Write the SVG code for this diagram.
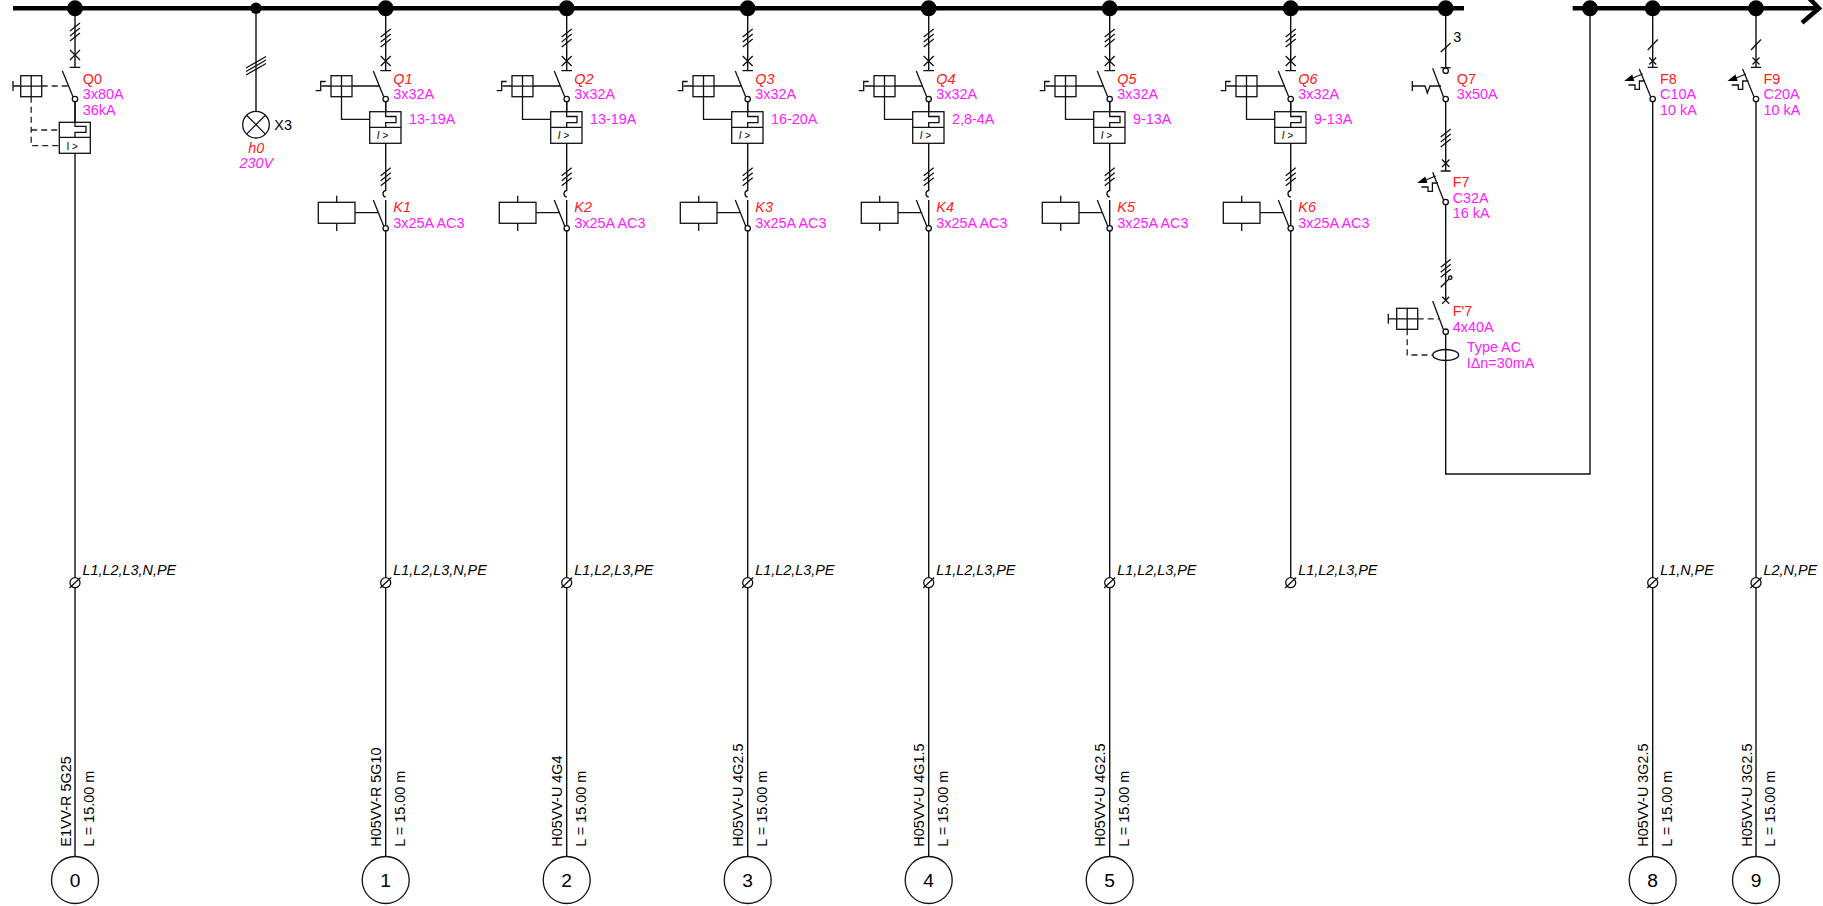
<svg xmlns="http://www.w3.org/2000/svg" xmlns:xlink="http://www.w3.org/1999/xlink" width="1823" height="906" viewBox="0 0 1823 906">
<style>
text{font-family:"Liberation Sans",Arial,sans-serif;font-size:14.4px;fill:#000}
.r{fill:#ff2020}.m{fill:#ff20ff}.i{font-style:italic}
.s{fill:none;stroke:#111;stroke-width:1.3}
.d{fill:none;stroke:#222;stroke-width:1.3;stroke-dasharray:6 4}
.w{fill:none;stroke:#111;stroke-width:1.4}
.o{fill:#fff;stroke:#111;stroke-width:1.3}
.b{fill:none;stroke:#000;stroke-width:4.5}
.f{fill:#000}
.n{font-size:19.2px;text-anchor:middle}
.c{text-anchor:middle}
.t{font-size:10px}
</style>
<defs>
<g id="tri"><path class="s" d="M-5 4L5-4M-5 9L5 1M-5 14L5 6"/></g>
<g id="box"><rect class="o" x="0" y="0" width="21" height="21"/><path class="s" d="M10.5 0V21M0 10.5H21"/></g>
<g id="trip"><path class="f" d="M-28.5 81L-20.5 74.6L-18.3 81Z"/><path class="s" d="M-20 78L-10 74M-24.3 85H-17.7V89.3H-13.3V81H-7.7"/></g>
<g id="end"><circle class="o" cx="0" cy="582.7" r="5"/><path class="s" d="M-5.5 588L5.5 577.5"/></g>
<g id="feeder">
<use xlink:href="#tri" y="33"/>
<path class="s" d="M-5 56L5 66M5 56L-5 66M-5.3 70.7H5.3M-12.4 71L-2 96.7"/>
<circle class="o" cx="0" cy="99" r="2.7"/>
<path class="s" d="M-70 90.7H-65V81.5H-60M-64 86H-54.7"/>
<use xlink:href="#box" x="-54.7" y="75.7"/>
<path class="s" d="M-33.7 86H-6.3M-44.2 96.7V119.3H-16"/>
<rect class="o" x="-16" y="111.7" width="31.3" height="31.6"/>
<path class="s" d="M-16 127.3H15.3M0 101.7V116.5H10.3V122.7H0V127.3"/>
<text class="t i" x="-9" y="139">I &gt;</text>
<use xlink:href="#tri" y="171.7"/>
<path class="s" d="M0 190.5A3.3 3.3 0 0 0 0 197M-12.4 200L-2 226M-30.7 212.7H-8"/>
<rect class="o" x="-67.4" y="202.3" width="36.7" height="21"/>
<path class="s" d="M-49 195.7V202.3M-49 223.3V231"/>
<circle class="o" cx="0" cy="228.3" r="2.7"/>
</g>
<g id="mcb">
<path class="s" d="M-5 50L5 39.5M-3.5 57.5L3.5 64.5M3.5 57.5L-3.5 64.5M-5 67.3H5M-13.4 69L-2 96.7"/>
<use xlink:href="#trip"/>
<circle class="o" cx="0" cy="99" r="2.7"/>
</g>
</defs>

<g id="connectors">
<path id="bus-a" class="b" d="M13 8.3H1464"/>
<path id="bus-b" class="b" d="M1572.7 8.3H1817M1805-6L1819 8.3L1802 22.7"/>
<path class="w" d="M75 8V67.3M75 99V122.3M75 153.3V856.5"/>
<path class="w" d="M256 8V111.3"/>
<path class="w" d="M385.7 8V70.7M385.7 99V111.7M385.7 140V191M385.7 200V856.5"/>
<path class="w" d="M566.7 8V70.7M566.7 99V111.7M566.7 140V191M566.7 200V856.5"/>
<path class="w" d="M747.7 8V70.7M747.7 99V111.7M747.7 140V191M747.7 200V856.5"/>
<path class="w" d="M928.7 8V70.7M928.7 99V111.7M928.7 140V191M928.7 200V856.5"/>
<path class="w" d="M1109.7 8V70.7M1109.7 99V111.7M1109.7 140V191M1109.7 200V856.5"/>
<path class="w" d="M1290.7 8V70.7M1290.7 99V111.7M1290.7 140V191M1290.7 200V578"/>
<path class="w" d="M1445.7 8V67.7M1445.7 99V171M1445.7 202V301M1445.7 331.7V474H1590V8"/>
<path class="w" d="M1652.7 8V67.3M1652.7 99V856.5"/>
<path class="w" d="M1756 8V67.3M1756 99V856.5"/>
</g>

<g id="feeder-Q0">
<circle class="f" cx="75" cy="8.3" r="8"/>
<use xlink:href="#tri" x="75" y="27"/>
<path class="s" d="M70 50L80 60M80 50L70 60M69.7 67.3H80.3M62.3 70.7L73 96.7M13 81V91M13 86H20.7"/>
<path class="d" d="M41.7 86H70M31.2 96.7V145.7H59.3M31.2 130H59.3"/>
<use xlink:href="#box" x="20.7" y="75.7"/>
<circle class="o" cx="75" cy="99" r="2.7"/>
<rect class="o" x="59.3" y="122.3" width="31" height="31"/>
<path class="s" d="M59.3 137.3H90.3M75 101.7V126.3H86V132.3H75V137.3"/>
<text class="t" x="66.5" y="150">I &gt;</text>
<text class="r" x="82.7" y="83.5">Q0</text><text class="m" x="82.7" y="99">3x80A</text><text class="m" x="82.7" y="114.5">36kA</text>
<use xlink:href="#end" x="75"/>
<text class="i" x="82.5" y="575">L1,L2,L3,N,PE</text>
<text transform="translate(70.6 846.7) rotate(-90)">E1VV-R 5G25</text>
<text transform="translate(94 846.7) rotate(-90)">L = 15.00 m</text>
<circle class="o" cx="75" cy="880" r="23.5"/><text class="n" x="75" y="887">0</text>
</g>

<g id="lamp-h0">
<circle class="f" cx="256" cy="8.3" r="5.7"/>
<path class="s" d="M246 68L266 56.5M246 71.5L266 60M246 75L266 63.5"/>
<circle class="o" cx="256" cy="124.7" r="13.3"/>
<path class="s" d="M246.6 115.3L265.4 134.1M265.4 115.3L246.6 134.1"/>
<text x="274.3" y="130">X3</text>
<text class="r i c" x="256.3" y="152.7">h0</text>
<text class="m i c" x="256.3" y="168.3">230V</text>
</g>

<g id="feeder-Q1">
<circle class="f" cx="385.7" cy="8.3" r="8"/><use xlink:href="#feeder" x="385.7"/>
<text class="r i" x="393.3" y="83.5">Q1</text><text class="m" x="393.3" y="99">3x32A</text><text class="m" x="409" y="124">13-19A</text>
<text class="r i" x="393.3" y="212">K1</text><text class="m" x="393.3" y="227.7">3x25A AC3</text>
<use xlink:href="#end" x="385.7"/><text class="i" x="393.2" y="575">L1,L2,L3,N,PE</text>
<text transform="translate(381.2 846.7) rotate(-90)">H05VV-R 5G10</text>
<text transform="translate(404.7 846.7) rotate(-90)">L = 15.00 m</text>
<circle class="o" cx="385.7" cy="880" r="23.5"/><text class="n" x="385.7" y="887">1</text>
</g>
<g id="feeder-Q2">
<circle class="f" cx="566.7" cy="8.3" r="8"/><use xlink:href="#feeder" x="566.7"/>
<text class="r i" x="574.3" y="83.5">Q2</text><text class="m" x="574.3" y="99">3x32A</text><text class="m" x="590" y="124">13-19A</text>
<text class="r i" x="574.3" y="212">K2</text><text class="m" x="574.3" y="227.7">3x25A AC3</text>
<use xlink:href="#end" x="566.7"/><text class="i" x="574.2" y="575">L1,L2,L3,PE</text>
<text transform="translate(562.2 846.7) rotate(-90)">H05VV-U 4G4</text>
<text transform="translate(585.7 846.7) rotate(-90)">L = 15.00 m</text>
<circle class="o" cx="566.7" cy="880" r="23.5"/><text class="n" x="566.7" y="887">2</text>
</g>
<g id="feeder-Q3">
<circle class="f" cx="747.7" cy="8.3" r="8"/><use xlink:href="#feeder" x="747.7"/>
<text class="r i" x="755.3" y="83.5">Q3</text><text class="m" x="755.3" y="99">3x32A</text><text class="m" x="771" y="124">16-20A</text>
<text class="r i" x="755.3" y="212">K3</text><text class="m" x="755.3" y="227.7">3x25A AC3</text>
<use xlink:href="#end" x="747.7"/><text class="i" x="755.2" y="575">L1,L2,L3,PE</text>
<text transform="translate(743.2 846.7) rotate(-90)">H05VV-U 4G2.5</text>
<text transform="translate(766.7 846.7) rotate(-90)">L = 15.00 m</text>
<circle class="o" cx="747.7" cy="880" r="23.5"/><text class="n" x="747.7" y="887">3</text>
</g>
<g id="feeder-Q4">
<circle class="f" cx="928.7" cy="8.3" r="8"/><use xlink:href="#feeder" x="928.7"/>
<text class="r i" x="936.3" y="83.5">Q4</text><text class="m" x="936.3" y="99">3x32A</text><text class="m" x="952" y="124">2,8-4A</text>
<text class="r i" x="936.3" y="212">K4</text><text class="m" x="936.3" y="227.7">3x25A AC3</text>
<use xlink:href="#end" x="928.7"/><text class="i" x="936.2" y="575">L1,L2,L3,PE</text>
<text transform="translate(924.2 846.7) rotate(-90)">H05VV-U 4G1.5</text>
<text transform="translate(947.7 846.7) rotate(-90)">L = 15.00 m</text>
<circle class="o" cx="928.7" cy="880" r="23.5"/><text class="n" x="928.7" y="887">4</text>
</g>
<g id="feeder-Q5">
<circle class="f" cx="1109.7" cy="8.3" r="8"/><use xlink:href="#feeder" x="1109.7"/>
<text class="r i" x="1117.3" y="83.5">Q5</text><text class="m" x="1117.3" y="99">3x32A</text><text class="m" x="1133" y="124">9-13A</text>
<text class="r i" x="1117.3" y="212">K5</text><text class="m" x="1117.3" y="227.7">3x25A AC3</text>
<use xlink:href="#end" x="1109.7"/><text class="i" x="1117.2" y="575">L1,L2,L3,PE</text>
<text transform="translate(1105.2 846.7) rotate(-90)">H05VV-U 4G2.5</text>
<text transform="translate(1128.7 846.7) rotate(-90)">L = 15.00 m</text>
<circle class="o" cx="1109.7" cy="880" r="23.5"/><text class="n" x="1109.7" y="887">5</text>
</g>
<g id="feeder-Q6">
<circle class="f" cx="1290.7" cy="8.3" r="8"/><use xlink:href="#feeder" x="1290.7"/>
<text class="r i" x="1298.3" y="83.5">Q6</text><text class="m" x="1298.3" y="99">3x32A</text><text class="m" x="1314" y="124">9-13A</text>
<text class="r i" x="1298.3" y="212">K6</text><text class="m" x="1298.3" y="227.7">3x25A AC3</text>
<use xlink:href="#end" x="1290.7"/><text class="i" x="1298.2" y="575">L1,L2,L3,PE</text>
</g>

<g id="feeder-Q7">
<circle class="f" cx="1445.7" cy="8.3" r="8"/>
<path class="s" d="M1440.7 52L1450.7 43M1432.7 68.3L1443.5 96.7M1412.3 81V91M1412.3 86H1425L1427.3 93L1430 86H1441"/>
<circle class="o" cx="1445.7" cy="70.7" r="2.7"/>
<path class="s" d="M1440.7 67.7H1450.7"/>
<circle class="o" cx="1445.7" cy="99" r="2.7"/>
<text x="1453.3" y="41.7">3</text>
<text class="r" x="1456.7" y="83.5">Q7</text><text class="m" x="1456.7" y="99">3x50A</text>
</g>
<g id="feeder-F7">
<use xlink:href="#tri" x="1445.7" y="133"/>
<path class="s" d="M1442 159.5L1449.5 167M1449.5 159.5L1442 167M1440.7 171H1450.7M1432.7 172.3L1443.5 200"/>
<use xlink:href="#trip" x="1445.7" y="102"/>
<circle class="o" cx="1445.7" cy="202" r="2.7"/>
<text class="r" x="1452.7" y="186.7">F7</text><text class="m" x="1452.7" y="202.5">C32A</text><text class="m" x="1452.7" y="217.7">16 kA</text>
</g>
<g id="feeder-F-7">
<use xlink:href="#tri" x="1445.7" y="263.3"/>
<path class="s" d="M1440.7 287.3L1449 279M1442.2 296.8L1449.2 303.8M1449.2 296.8L1442.2 303.8M1432.7 301L1443.3 329.3M1388.3 313.8V323.8M1388.3 318.8H1396.7"/>
<circle class="o" cx="1450.3" cy="277.7" r="1.7"/>
<path class="d" d="M1417.7 318.8H1440M1407.2 329.3V355H1432.7"/>
<use xlink:href="#box" x="1396.7" y="308.3"/>
<circle class="o" cx="1445.7" cy="331.7" r="2.7"/>
<ellipse class="s" cx="1445.7" cy="355" rx="13" ry="5.5"/>
<text class="r" x="1452.7" y="316">F'7</text><text class="m" x="1452.7" y="331.7">4x40A</text>
<text class="m" x="1466.7" y="352.3">Type AC</text><text class="m" x="1466.7" y="367.7">IΔn=30mA</text>
</g>
<g id="junction"><circle class="f" cx="1590" cy="8.3" r="8"/></g>
<g id="feeder-F8">
<circle class="f" cx="1652.7" cy="8.3" r="8"/><use xlink:href="#mcb" x="1652.7"/>
<text class="r" x="1660" y="83.5">F8</text><text class="m" x="1660" y="99">C10A</text><text class="m" x="1660" y="114.5">10 kA</text>
<use xlink:href="#end" x="1652.7"/><text class="i" x="1660.2" y="575">L1,N,PE</text>
<text transform="translate(1648.2 846.7) rotate(-90)">H05VV-U 3G2.5</text>
<text transform="translate(1671.7 846.7) rotate(-90)">L = 15.00 m</text>
<circle class="o" cx="1652.7" cy="880" r="23.5"/><text class="n" x="1652.7" y="887">8</text>
</g>
<g id="feeder-F9">
<circle class="f" cx="1756" cy="8.3" r="8"/><use xlink:href="#mcb" x="1756"/>
<text class="r" x="1763.5" y="83.5">F9</text><text class="m" x="1763.5" y="99">C20A</text><text class="m" x="1763.5" y="114.5">10 kA</text>
<use xlink:href="#end" x="1756"/><text class="i" x="1763.5" y="575">L2,N,PE</text>
<text transform="translate(1751.5 846.7) rotate(-90)">H05VV-U 3G2.5</text>
<text transform="translate(1775 846.7) rotate(-90)">L = 15.00 m</text>
<circle class="o" cx="1756" cy="880" r="23.5"/><text class="n" x="1756" y="887">9</text>
</g>
</svg>
